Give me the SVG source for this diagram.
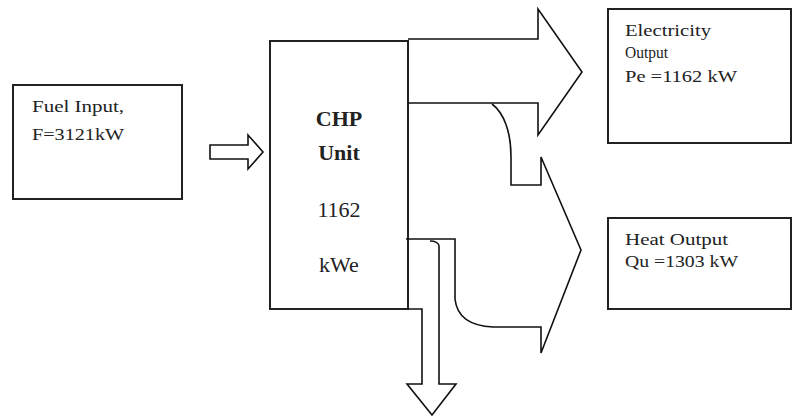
<svg xmlns="http://www.w3.org/2000/svg" width="793" height="416" viewBox="0 0 793 416">
<style>
.box{fill:#fff;stroke:#222;stroke-width:2}
.ln{fill:none;stroke:#111;stroke-width:1.6;stroke-linejoin:miter}
.t{font-family:"Liberation Serif","Times New Roman",serif;font-size:16px;fill:#222}
.c{font-family:"Liberation Serif","Times New Roman",serif;font-size:22px;fill:#222;text-anchor:middle}
.b{font-weight:bold}
</style>
<rect width="793" height="416" fill="#fff"/>
<g id="fuel">
<rect class="box" x="13" y="85" width="169" height="114"/>
<text class="t" x="32" y="112" textLength="92" lengthAdjust="spacingAndGlyphs">Fuel Input,</text>
<text class="t" x="32" y="140" textLength="92" lengthAdjust="spacingAndGlyphs">F=3121kW</text>
</g>
<g id="chp">
<rect class="box" x="270" y="41" width="138" height="268"/>
<text class="c b" x="339" y="126">CHP</text>
<text class="c b" x="339" y="160">Unit</text>
<text class="c" x="339" y="217">1162</text>
<text class="c" x="339" y="272">kWe</text>
</g>
<g id="electricity">
<rect class="box" x="608" y="9" width="183" height="134"/>
<text class="t" x="625" y="36" textLength="86" lengthAdjust="spacingAndGlyphs">Electricity</text>
<text class="t" x="625" y="58" textLength="43" lengthAdjust="spacingAndGlyphs">Output</text>
<text class="t" x="625" y="82" textLength="112" lengthAdjust="spacingAndGlyphs">Pe =1162 kW</text>
</g>
<g id="heat">
<rect class="box" x="608" y="218" width="183" height="91"/>
<text class="t" x="625" y="245" textLength="103" lengthAdjust="spacingAndGlyphs">Heat Output</text>
<text class="t" x="625" y="267" textLength="113" lengthAdjust="spacingAndGlyphs">Qu =1303 kW</text>
</g>
<g id="connectors">
<path class="ln" d="M210,145 L248,145 L248,135 L263,152 L248,169 L248,159 L210,159 Z"/>
<path class="ln" d="M408,39 L538,39 L538,9 L582,72 L538,135 L538,103 L408,103"/>
<path class="ln" d="M492,104 C504,113 511,132 511,157 L511,185 L541,185 L541,157 L581,250 L541,353 L541,327 L493,327 C472,326 457,318 455,299 L455,239 L406,239"/>
<path class="ln" d="M408,309 L422,309 L422,384 L407,384 L432,415 L456,384 L439,384 L439,246 C439,243 435,241 430,241"/>
</g>
</svg>
